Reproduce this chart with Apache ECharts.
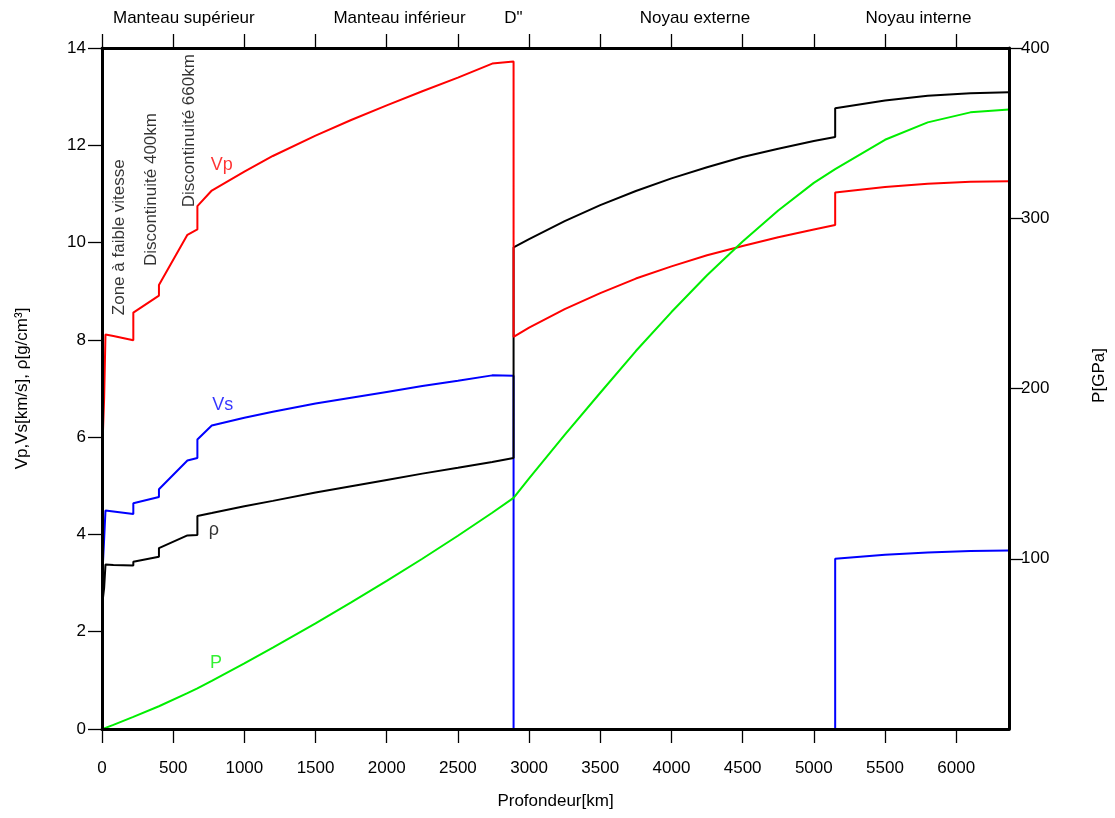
<!DOCTYPE html>
<html><head><meta charset="utf-8">
<script src="https://cdn.jsdelivr.net/npm/echarts@6/dist/echarts.min.js"></script>
<style>html,body{margin:0;padding:0;background:#fff}#c{width:1115px;height:818px}</style>
</head><body><div id="c"></div>
<script>
// Depth samples (km), duplicated at discontinuities
const depthKm = [0, 3, 3, 15, 15, 24.4, 24.4, 80, 220, 220,
  400, 400, 600, 670, 670, 771, 1000, 1200, 1500, 1750,
  2000, 2250, 2500, 2741, 2891, 2891, 3000, 3250, 3500, 3750,
  4000, 4250, 4500, 4750, 5000, 5150, 5150, 5500, 5800, 6100, 6371];
const vp = [1.45, 1.45, 5.8, 5.8, 6.8, 6.8, 8.11, 8.08, 7.99, 8.56,
  8.91, 9.13, 10.16, 10.27, 10.75, 11.07, 11.46, 11.78, 12.20, 12.52,
  12.82, 13.11, 13.39, 13.68, 13.72, 8.06, 8.25, 8.63, 8.96, 9.26,
  9.51, 9.74, 9.93, 10.11, 10.27, 10.36, 11.03, 11.14, 11.21, 11.25, 11.26];
const vs = [0, 0, 3.2, 3.2, 3.9, 3.9, 4.49, 4.47, 4.42, 4.64,
  4.77, 4.93, 5.52, 5.57, 5.95, 6.24, 6.40, 6.52, 6.69, 6.81,
  6.93, 7.05, 7.16, 7.27, 7.26, 0, 0, 0, 0, 0,
  0, 0, 0, 0, 0, 0, 3.50, 3.58, 3.63, 3.66, 3.67];
const rho = [1.02, 1.02, 2.6, 2.6, 2.9, 2.9, 3.38, 3.37, 3.36, 3.44,
  3.54, 3.72, 3.98, 3.99, 4.38, 4.44, 4.58, 4.69, 4.86, 4.99,
  5.12, 5.25, 5.37, 5.49, 5.57, 9.90, 10.07, 10.44, 10.77, 11.06,
  11.32, 11.55, 11.76, 11.93, 12.09, 12.17, 12.76, 12.92, 13.02, 13.07, 13.09];
const pGPa = [0, 0.03, 0.03, 0.34, 0.34, 0.6, 0.6, 2.45, 7.11, 7.11,
  13.35, 13.35, 21.04, 23.83, 23.83, 28.29, 38.6, 47.85, 62.1, 74.4,
  87.0, 100.0, 113.5, 127.0, 135.75, 135.75, 147.2, 172.8, 197.5, 222.0,
  244.9, 266.5, 286.3, 304.6, 320.8, 328.85, 328.85, 346.1, 356.3, 362.2, 363.85];

const tickKm = [0, 500, 1000, 1500, 2000, 2500, 3000, 3500, 4000, 4500, 5000, 5500, 6000];
const leftTicks = [0, 2, 4, 6, 8, 10, 12, 14];
const rightTicks = [100, 200, 300, 400];
const regionNames = ['Manteau supérieur', 'Manteau inférieur', 'D"', 'Noyau externe', 'Noyau interne'];
const regionKm = [575, 2090, 2890, 4165, 5735];

const noteText = ['Zone à faible vitesse', 'Discontinuité 400km', 'Discontinuité 660km'];
const noteKm = [119, 347, 610];
const noteVal = [10.11, 11.09, 12.30];

const curveNames = ['Vp', 'Vs', 'ρ', 'P'];
const curveColors = ['#ff0000', '#0000ff', '#000000', '#00ee00'];
const curveLabelKm = [841, 848, 785, 800];
const curveLabelVal = [11.6, 6.66, 4.09, 1.36];

const FONT = "'Liberation Sans', Arial, Helvetica, sans-serif";
const pairs = (ys) => depthKm.map((d, i) => [d, ys[i]]);
const plain = (v) => String(v);

function lineSeries(name, ys, color, yIdx) {
  return {
    type: 'line', name: name, data: pairs(ys), xAxisIndex: 0, yAxisIndex: yIdx,
    showSymbol: false, symbol: 'none', smooth: false,
    lineStyle: { color: color, width: 2 }, z: 2, silent: true
  };
}

const labelData = curveNames.map((n, i) => ({
  value: [curveLabelKm[i], curveLabelVal[i]], name: n,
  label: { color: curveColors[i] }
}));
const noteData = noteText.map((t, i) => ({ value: [noteKm[i], noteVal[i]], name: t }));

const axisLineStyle = { color: '#000', width: 3 };
const tickStyle = { color: '#000', width: 1.3 };

const option = {
  animation: false,
  backgroundColor: '#fff',
  textStyle: { fontFamily: FONT },
  grid: { left: 102, right: 106, top: 48, bottom: 89, containLabel: false, outerBoundsMode: 'none' },
  xAxis: [{
    type: 'value', position: 'bottom', min: 0, max: 6371, z: 5,
    axisLine: { show: true, onZero: false, lineStyle: axisLineStyle },
    axisTick: { show: true, customValues: tickKm, length: 14, lineStyle: tickStyle },
    axisLabel: { show: true, customValues: tickKm, fontSize: 17, color: '#000', margin: 31,
      fontFamily: FONT, formatter: plain },
    splitLine: { show: false },
    name: 'Profondeur[km]', nameLocation: 'middle', nameGap: 64,
    nameTextStyle: { fontSize: 17, color: '#000', fontFamily: FONT }
  }, {
    type: 'value', position: 'top', min: 0, max: 6371, z: 5,
    axisLine: { show: true, onZero: false, lineStyle: axisLineStyle },
    axisTick: { show: true, customValues: tickKm, length: 14, lineStyle: tickStyle },
    axisLabel: {
      show: true, customValues: regionKm, fontSize: 17, color: '#000', margin: 21, fontFamily: FONT,
      formatter: (v) => { const i = regionKm.indexOf(v); return i >= 0 ? regionNames[i] : ''; }
    },
    splitLine: { show: false }
  }],
  yAxis: [{
    type: 'value', position: 'left', min: 0, max: 14, interval: 2, z: 5,
    axisLine: { show: true, onZero: false, lineStyle: axisLineStyle },
    axisTick: { show: true, customValues: leftTicks, length: 14, lineStyle: tickStyle },
    axisLabel: { show: true, customValues: leftTicks, fontSize: 17, color: '#000', margin: 16,
      fontFamily: FONT, formatter: plain },
    splitLine: { show: false },
    name: 'Vp,Vs[km/s], ρ[g/cm³]', nameLocation: 'middle', nameGap: 71, nameRotate: 90,
    nameTextStyle: { fontSize: 17, color: '#000', fontFamily: FONT }
  }, {
    type: 'value', position: 'right', min: 0, max: 400, interval: 100, z: 5,
    axisLine: { show: true, onZero: false, lineStyle: axisLineStyle },
    axisTick: { show: true, customValues: rightTicks, length: 14, lineStyle: tickStyle },
    axisLabel: { show: true, customValues: rightTicks, fontSize: 17, color: '#000', margin: 12,
      fontFamily: FONT, formatter: plain },
    splitLine: { show: false },
    name: 'P[GPa]', nameLocation: 'middle', nameGap: 82, nameRotate: 90,
    nameTextStyle: { fontSize: 17, color: '#000', fontFamily: FONT, padding: [0, 0, 0, 26] }
  }],
  series: [
    lineSeries('Vs', vs, curveColors[1], 0),
    lineSeries('ρ', rho, curveColors[2], 0),
    lineSeries('Vp', vp, curveColors[0], 0),
    lineSeries('P', pGPa, curveColors[3], 1),
    {
      type: 'scatter', name: 'labels', data: labelData, symbolSize: 1,
      itemStyle: { color: 'rgba(0,0,0,0)' }, silent: true, z: 3,
      label: { show: true, position: 'inside', formatter: '{b}', fontSize: 18, fontFamily: FONT,
        textBorderWidth: 0 }
    },
    {
      type: 'scatter', name: 'notes', data: noteData, symbolSize: 1,
      itemStyle: { color: 'rgba(0,0,0,0)' }, silent: true, z: 3,
      label: { show: true, position: 'inside', formatter: '{b}', rotate: 90, fontSize: 17,
        color: '#000', fontFamily: FONT, textBorderWidth: 0 }
    }
  ]
};

const chart = echarts.init(document.getElementById('c'), null, { renderer: 'canvas' });
chart.setOption(option);
</script>
</body></html>
